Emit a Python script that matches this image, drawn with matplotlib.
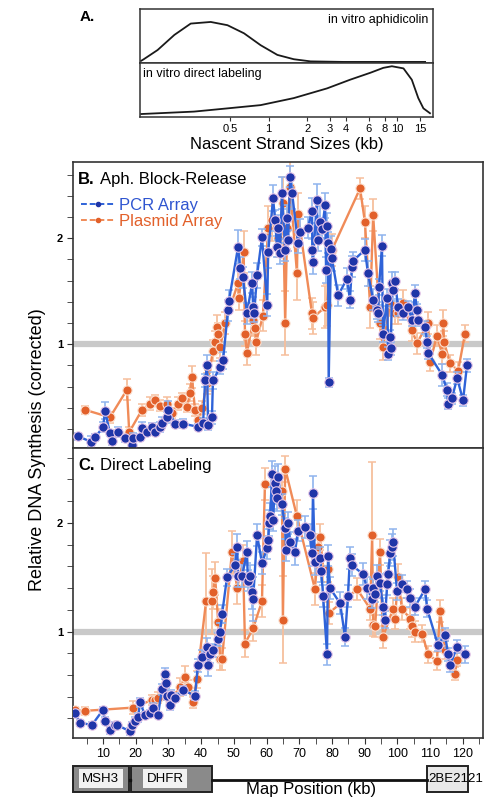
import matplotlib
matplotlib.use("Agg")
import matplotlib.pyplot as plt
from matplotlib.lines import Line2D
from matplotlib.patches import Rectangle
from matplotlib.ticker import MultipleLocator, FixedLocator, NullLocator

plt.rcParams['font.family'] = ['Liberation Sans', 'DejaVu Sans']

# ---- panel A: nascent strand size profiles ----
aph_kb = [0.102, 0.107, 0.137, 0.185, 0.248, 0.355, 0.479, 0.644, 0.867, 1.17, 1.57, 2.12, 3.8, 16.5]
aph_val = [0.04, 0.07, 0.24, 0.52, 0.73, 0.76, 0.70, 0.55, 0.33, 0.15, 0.07, 0.03, 0.02, 0.02]
dir_kb = [0.102, 0.263, 0.48, 0.867, 1.57, 2.85, 4.3, 6.2, 7.8, 9.1, 11.2, 13.0, 14.6, 16.0, 18.0]
dir_val = [0.055, 0.10, 0.16, 0.22, 0.35, 0.53, 0.69, 0.82, 0.91, 0.94, 0.90, 0.69, 0.35, 0.16, 0.07]
a_ticks = [0.5, 1, 2, 3, 4, 6, 8, 10, 15]

# ---- panel B: aphidicolin block-release ----
b_pcr_x = [2.4, 6.2, 7.6, 10.0, 10.6, 12.1, 12.7, 14.6, 16.7, 18.9, 19.2, 21.3, 21.9, 23.4, 25.0, 25.9,
           27.4, 28.0, 29.6, 29.9, 32.0, 34.5, 39.0, 40.6, 41.2, 41.8, 42.1, 43.3, 43.6, 45.8, 46.7,
           48.2, 48.5, 51.3, 51.9, 52.8, 54.0, 55.6, 55.9, 56.2, 57.1, 58.6, 60.2, 60.5, 62.0, 62.6,
           63.2, 63.5, 64.1, 64.7, 65.7, 66.3, 66.6, 67.2, 67.8, 69.6, 70.2, 72.7, 73.9, 74.0, 74.2,
           75.4, 75.6, 76.4, 77.0, 77.9, 78.2, 78.5, 78.8, 79.0, 79.7, 80.0, 81.9, 84.6, 85.5, 86.1,
           86.5, 90.1, 91.0, 92.6, 93.8, 94.1, 94.4, 95.3, 95.6, 96.9, 97.2, 97.8, 98.0, 98.4, 98.7,
           99.3, 100.2, 101.7, 103.3, 104.5, 105.4, 106.0, 106.3, 108.5, 109.1, 109.4, 113.7, 115.2,
           115.5, 116.7, 118.3, 120.1, 121.3]
b_pcr_y = [0.13, 0.08, 0.12, 0.22, 0.37, 0.16, 0.09, 0.17, 0.11, 0.05, 0.11, 0.12, 0.21, 0.17, 0.22, 0.17,
           0.22, 0.26, 0.31, 0.38, 0.25, 0.25, 0.22, 0.26, 0.66, 0.80, 0.24, 0.31, 0.66, 0.78, 0.85,
           1.32, 1.41, 1.92, 1.72, 1.63, 1.29, 1.58, 1.35, 1.29, 1.65, 2.01, 1.37, 1.87, 2.38, 2.17,
           1.92, 2.10, 1.86, 2.43, 1.89, 2.19, 1.98, 2.58, 2.43, 1.96, 2.06, 2.10, 2.26, 1.89, 1.78,
           2.36, 1.98, 2.15, 2.09, 2.31, 1.70, 2.12, 1.96, 0.64, 1.90, 1.81, 1.46, 1.62, 1.42, 1.73,
           1.79, 1.89, 1.67, 1.42, 1.32, 1.29, 1.54, 1.93, 1.10, 1.44, 0.91, 1.07, 0.96, 1.58, 1.51,
           1.60, 1.35, 1.29, 1.35, 1.23, 1.48, 1.32, 1.23, 1.16, 1.02, 0.92, 0.71, 0.57,
           0.44, 0.49, 0.68, 0.47, 0.80]
b_pcr_err = [0.03, 0.05, 0.03, 0.05, 0.08, 0.03, 0.04, 0.05, 0.03, 0.03, 0.05, 0.03, 0.06, 0.04, 0.04, 0.03,
             0.05, 0.05, 0.05, 0.08, 0.03, 0.04, 0.03, 0.04, 0.06, 0.10, 0.05, 0.06, 0.08, 0.06, 0.08,
             0.10, 0.10, 0.16, 0.10, 0.10, 0.10, 0.10, 0.10, 0.08, 0.12, 0.08, 0.10, 0.15, 0.12, 0.10,
             0.10, 0.12, 0.10, 0.15, 0.10, 0.12, 0.10, 0.10, 0.15, 0.10, 0.12, 0.10, 0.12, 0.10, 0.12,
             0.15, 0.10, 0.15, 0.10, 0.12, 0.12, 0.12, 0.10, 0.04, 0.12, 0.12, 0.10, 0.10, 0.08, 0.10,
             0.08, 0.10, 0.12, 0.10, 0.08, 0.08, 0.08, 0.10, 0.08, 0.08, 0.06, 0.06, 0.06, 0.10, 0.10,
             0.08, 0.08, 0.06, 0.06, 0.06, 0.08, 0.06, 0.06, 0.06, 0.06, 0.06, 0.10, 0.06,
             0.05, 0.05, 0.06, 0.05, 0.06]

b_pla_x = [4.5, 12.1, 17.3, 18.0, 21.9, 24.4, 25.9, 27.4, 29.6, 31.1, 32.9, 34.2, 35.7, 36.6, 37.2, 38.1,
           39.0, 40.3, 41.8, 42.1, 43.6, 44.3, 44.9, 45.2, 45.8, 47.3, 51.3, 51.6, 53.0, 53.4, 54.0,
           55.9, 56.5, 56.8, 58.9, 60.5, 61.7, 63.5, 65.0, 65.7, 66.3, 67.2, 69.3, 69.6, 73.9, 74.2,
           77.9, 78.5, 80.0, 88.6, 90.1, 91.7, 92.6, 94.7, 95.6, 97.8, 99.3, 100.2, 101.7, 104.5, 106.0,
           109.4, 110.0, 112.1, 113.7, 114.0, 114.3, 116.1, 118.6, 120.7]
b_pla_y = [0.38, 0.31, 0.57, 0.17, 0.38, 0.44, 0.47, 0.42, 0.44, 0.35, 0.44, 0.49, 0.41, 0.54, 0.69, 0.38,
           0.28, 0.40, 0.63, 0.66, 0.94, 1.02, 1.16, 1.10, 0.97, 1.20, 1.58, 1.44, 1.87, 1.10, 0.92,
           1.23, 1.15, 1.02, 1.27, 2.10, 2.17, 2.00, 2.33, 1.20, 2.10, 2.48, 1.67, 2.23, 1.29, 1.25,
           1.35, 1.37, 1.89, 2.47, 2.15, 1.35, 2.22, 1.20, 0.97, 1.39, 1.29, 1.29, 1.39, 1.13, 1.01,
           1.20, 0.83, 1.08, 0.91, 1.20, 1.02, 0.82, 0.75, 1.10]
b_pla_err = [0.04, 0.05, 0.10, 0.05, 0.06, 0.06, 0.05, 0.05, 0.06, 0.05, 0.06, 0.05, 0.05, 0.08, 0.10, 0.06,
             0.05, 0.06, 0.10, 0.10, 0.10, 0.10, 0.12, 0.10, 0.10, 0.10, 0.15, 0.12, 0.20, 0.12, 0.12,
             0.15, 0.12, 0.12, 0.15, 0.20, 0.20, 0.18, 0.25, 0.30, 0.20, 0.25, 0.25, 0.20, 0.15, 0.15,
             0.20, 0.20, 0.15, 0.10, 0.15, 0.20, 0.15, 0.15, 0.12, 0.12, 0.10, 0.10, 0.12, 0.10, 0.10,
             0.10, 0.08, 0.10, 0.10, 0.12, 0.10, 0.08, 0.08, 0.08]

# ---- panel C: direct labeling ----
c_pcr_x = [1.4, 3.0, 6.6, 10.0, 10.6, 12.1, 13.7, 14.3, 18.3, 18.9, 19.8, 20.7, 21.3, 22.8, 24.4, 25.3,
           26.8, 28.0, 28.9, 29.2, 29.6, 30.5, 30.8, 32.0, 34.5, 38.1, 39.0, 40.3, 41.8, 42.1, 42.7,
           43.6, 45.2, 45.8, 46.4, 47.9, 50.4, 51.0, 51.3, 52.5, 54.0, 54.3, 54.9, 55.6, 55.9, 57.1,
           58.6, 60.2, 60.5, 60.8, 61.1, 61.7, 62.0, 62.6, 62.9, 63.2, 63.5, 64.7, 65.7, 66.0, 66.6,
           67.2, 68.7, 69.6, 71.8, 73.3, 73.9, 74.2, 74.8, 76.4, 76.7, 77.3, 78.5, 78.8, 79.4, 82.5,
           84.0, 84.9, 85.5, 86.1, 89.5, 90.7, 92.3, 92.6, 93.2, 93.8, 94.7, 95.6, 96.2, 96.9, 97.2,
           97.8, 98.4, 98.7, 99.9, 101.4, 103.0, 103.9, 105.4, 108.5, 109.1, 112.4, 114.6, 115.5,
           116.1, 118.3, 120.7]
c_pcr_y = [0.25, 0.16, 0.14, 0.28, 0.18, 0.09, 0.14, 0.14, 0.08, 0.14, 0.18, 0.21, 0.35, 0.23, 0.25, 0.30,
           0.23, 0.47, 0.61, 0.53, 0.41, 0.32, 0.42, 0.39, 0.46, 0.41, 0.69, 0.77, 0.86, 0.69, 0.79,
           0.83, 0.93, 1.00, 1.16, 1.50, 1.61, 1.78, 1.51, 1.51, 1.73, 1.47, 1.51, 1.36, 1.30, 1.89,
           1.63, 1.77, 1.84, 2.00, 2.06, 2.45, 2.03, 2.37, 2.29, 2.23, 2.42, 2.17, 1.95, 1.75, 2.00,
           1.82, 1.73, 1.93, 1.96, 1.89, 1.72, 2.28, 1.64, 1.68, 1.56, 1.33, 0.79, 1.70, 1.40, 1.26,
           0.95, 1.33, 1.68, 1.61, 1.53, 1.40, 1.30, 1.40, 1.35, 1.51, 1.45, 1.23, 1.11, 1.44, 1.53,
           1.72, 1.78, 1.82, 1.37, 1.44, 1.39, 1.31, 1.23, 1.39, 1.21, 0.88, 0.97, 0.79,
           0.69, 0.86, 0.79]
c_pcr_err = [0.03, 0.03, 0.03, 0.03, 0.03, 0.03, 0.03, 0.03, 0.03, 0.03, 0.03, 0.04, 0.04, 0.03, 0.03, 0.04,
             0.03, 0.05, 0.05, 0.05, 0.04, 0.04, 0.04, 0.04, 0.04, 0.04, 0.06, 0.06, 0.08, 0.10, 0.08,
             0.06, 0.06, 0.08, 0.08, 0.08, 0.10, 0.12, 0.10, 0.10, 0.10, 0.10, 0.10, 0.15, 0.20, 0.10,
             0.10, 0.10, 0.10, 0.12, 0.12, 0.12, 0.10, 0.15, 0.12, 0.12, 0.12, 0.10, 0.10, 0.10, 0.10,
             0.10, 0.12, 0.10, 0.10, 0.10, 0.12, 0.15, 0.12, 0.10, 0.10, 0.10, 0.10, 0.10, 0.10, 0.10,
             0.08, 0.10, 0.10, 0.10, 0.10, 0.10, 0.08, 0.08, 0.08, 0.10, 0.08, 0.08, 0.08, 0.10, 0.10,
             0.12, 0.12, 0.12, 0.08, 0.08, 0.08, 0.08, 0.08, 0.08, 0.08, 0.06, 0.06, 0.06,
             0.06, 0.06, 0.08]

c_pla_x = [1.4, 4.5, 19.2, 25.0, 25.9, 26.8, 30.5, 33.5, 35.1, 36.0, 37.5, 38.7, 41.5, 43.3, 43.6, 44.3,
           45.2, 45.8, 46.4, 49.4, 51.0, 52.8, 53.4, 55.9, 58.6, 59.5, 64.7, 65.0, 65.7, 69.3, 74.8,
           75.8, 76.4, 77.3, 78.8, 79.1, 87.7, 91.7, 92.3, 92.6, 93.2, 94.7, 95.6, 98.7, 99.3, 100.2,
           101.4, 103.9, 104.5, 105.4, 107.6, 109.4, 112.1, 113.1, 114.6, 117.6, 118.3]
c_pla_y = [0.28, 0.27, 0.30, 0.37, 0.37, 0.39, 0.36, 0.49, 0.58, 0.49, 0.35, 0.56, 1.28, 1.28, 1.36, 1.49,
           1.09, 0.75, 0.75, 1.73, 1.40, 1.65, 0.89, 1.03, 1.28, 2.36, 2.29, 1.11, 2.50, 2.06, 1.39,
           1.78, 1.87, 1.58, 1.58, 1.17, 1.39, 1.21, 1.89, 1.06, 1.05, 1.73, 0.95, 1.21, 1.12, 1.50,
           1.21, 1.12, 1.05, 1.00, 0.98, 0.79, 0.73, 1.19, 0.83, 0.61, 0.74]
c_pla_err = [0.03, 0.04, 0.06, 0.05, 0.05, 0.05, 0.05, 0.08, 0.10, 0.06, 0.05, 0.08, 0.44, 0.30, 0.15, 0.15,
             0.12, 0.10, 0.10, 0.20, 0.15, 0.15, 0.12, 0.12, 0.15, 0.15, 0.15, 0.40, 0.12, 0.15, 0.15,
             0.12, 0.12, 0.12, 0.12, 0.10, 0.10, 0.10, 0.67, 0.10, 0.10, 0.12, 0.10, 0.10, 0.10, 0.12,
             0.10, 0.10, 0.10, 0.10, 0.08, 0.08, 0.08, 0.10, 0.08, 0.06, 0.06]

# ---- gene map ----
gene_names = ['MSH3', 'DHFR', '2BE2121']
gene_start = [0.7, 18.6, 109.1]
gene_end = [17.9, 43.3, 121.6]
gene_fill = ['#8a8a8a', '#8a8a8a', '#e8e8e8']

x_ticks = list(range(10, 130, 10))

BLUE_DOT = '#1f35a8'
BLUE_LINE = '#2f63d8'
BLUE_ERR = '#8fb4ee'
ORANGE_DOT = '#e2602a'
ORANGE_LINE = '#f08b58'
ORANGE_ERR = '#f6bf9c'
FRAME = '#333333'

fig = plt.figure(figsize=(4.92, 7.97), dpi=100)

# panel A
W, H = 492.0, 797.0
axA1 = fig.add_axes([140 / W, 1 - 63 / H, 293 / W, 54 / H])
axA2 = fig.add_axes([140 / W, 1 - 117 / H, 293 / W, 54 / H], sharex=axA1)
axA1.plot(aph_kb, aph_val, color='#1a1a1a', lw=1.3)
axA2.plot(dir_kb, dir_val, color='#1a1a1a', lw=1.3)
for ax in (axA1, axA2):
    ax.set_xscale('log')
    ax.set_xlim(0.1, 19)
    ax.set_ylim(0, 1)
    ax.yaxis.set_major_locator(NullLocator())
    for s in ax.spines.values():
        s.set_color(FRAME)
        s.set_linewidth(1.1)
axA1.tick_params(axis='x', which='both', bottom=False, labelbottom=False)
axA2.xaxis.set_major_locator(FixedLocator(a_ticks))
axA2.xaxis.set_minor_locator(NullLocator())
axA2.set_xticklabels([str(t) for t in a_ticks])
axA2.tick_params(axis='x', direction='out', length=3, labelsize=8, pad=2, color=FRAME)
axA2.set_xlabel('Nascent Strand Sizes (kb)', fontsize=12, labelpad=2)
axA1.text(0.985, 0.8, 'in vitro aphidicolin', transform=axA1.transAxes, ha='right', va='center', fontsize=9)
axA2.text(0.01, 0.8, 'in vitro direct labeling', transform=axA2.transAxes, ha='left', va='center', fontsize=9)
fig.text(80 / W, 1 - 17 / H, 'A.', fontsize=11, fontweight='bold', ha='left', va='center')

# panels B and C
axB = fig.add_axes([73 / W, 1 - 448 / H, 410 / W, 286 / H])
axC = fig.add_axes([73 / W, 1 - 738 / H, 410 / W, 290 / H], sharex=axB)


def draw_panel(ax, px, py, pe, ox, oy, oe):
    ax.axhline(1.0, color='#c9c9c9', lw=4.5, zorder=0)
    ax.errorbar(ox, oy, yerr=oe, fmt='none', ecolor=ORANGE_ERR, elinewidth=1.3, capsize=3, capthick=1.1, zorder=1)
    ax.plot(ox, oy, color=ORANGE_LINE, lw=1.7, zorder=2)
    ax.plot(ox, oy, 'o', ms=6.6, color=ORANGE_DOT, mec='#fbe0d0', mew=0.8, zorder=3)
    ax.errorbar(px, py, yerr=pe, fmt='none', ecolor=BLUE_ERR, elinewidth=1.2, capsize=3, capthick=1.1, zorder=4)
    ax.plot(px, py, color=BLUE_LINE, lw=1.7, zorder=5)
    ax.plot(px, py, 'o', ms=6.8, color=BLUE_DOT, mec='#e8c8e8', mew=0.8, zorder=6)
    ax.set_xlim(0.8, 126.2)
    ax.yaxis.set_major_locator(MultipleLocator(1))
    ax.yaxis.set_minor_locator(MultipleLocator(0.2))
    ax.tick_params(axis='y', which='both', direction='out', length=4, color=FRAME, labelsize=8, pad=3)
    for s in ax.spines.values():
        s.set_color(FRAME)
        s.set_linewidth(1.2)


draw_panel(axB, b_pcr_x, b_pcr_y, b_pcr_err, b_pla_x, b_pla_y, b_pla_err)
draw_panel(axC, c_pcr_x, c_pcr_y, c_pcr_err, c_pla_x, c_pla_y, c_pla_err)
axB.set_ylim(0.02, 2.72)
axC.set_ylim(0.02, 2.69)
for ax in (axB, axC):
    for lab in ax.get_yticklabels():
        lab.set_fontweight('bold')

axB.tick_params(axis='x', which='both', bottom=False, labelbottom=False)
axC.xaxis.set_major_locator(FixedLocator(x_ticks))
axC.xaxis.set_minor_locator(MultipleLocator(5))
axC.tick_params(axis='x', which='both', direction='out', length=4, color=FRAME, labelsize=9, pad=3)

axB.text(0.012, 0.965, 'B.', transform=axB.transAxes, fontsize=12, fontweight='bold', va='top', ha='left')
axB.text(0.065, 0.965, 'Aph. Block-Release', transform=axB.transAxes, fontsize=12, va='top', ha='left')
axC.text(0.012, 0.965, 'C.', transform=axC.transAxes, fontsize=12, fontweight='bold', va='top', ha='left')
axC.text(0.065, 0.965, 'Direct Labeling', transform=axC.transAxes, fontsize=12, va='top', ha='left')

handles = [Line2D([], [], color=BLUE_LINE, lw=1.4, ls=(0, (3, 1.5)), marker='o', ms=3, mfc=BLUE_DOT, mec=BLUE_DOT),
           Line2D([], [], color=ORANGE_LINE, lw=1.4, ls=(0, (3, 1.5)), marker='o', ms=3, mfc=ORANGE_DOT, mec=ORANGE_DOT)]
leg = axB.legend(handles, ['PCR Array', 'Plasmid Array'], loc='upper left', bbox_to_anchor=(-0.005, 0.91),
                 frameon=False, fontsize=12, handlelength=2.0, handletextpad=0.3, labelspacing=0.05,
                 borderaxespad=0.2)
for txt, col in zip(leg.get_texts(), ['#2f55d0', ORANGE_DOT]):
    txt.set_color(col)

fig.text(38 / W, 1 - 450 / H, 'Relative DNA Synthesis (corrected)', rotation=90, fontsize=13,
         ha='center', va='center')

# gene map
axG = fig.add_axes([73 / W, 0, 410 / W, 37 / H], sharex=axC)
axG.set_ylim(0, 1)
axG.axis('off')
axG.plot([gene_end[1], gene_start[2]], [0.46, 0.46], color='#111111', lw=2, clip_on=False)
axG.plot([gene_end[0] + 0.35], [0.46], 's', ms=1.5, color='#111111')
for name, s, e, fc in zip(gene_names, gene_start, gene_end, gene_fill):
    axG.add_patch(Rectangle((s, 0.135), e - s, 0.705, facecolor=fc, edgecolor='#222222', lw=1.4, clip_on=False))
axG.text((gene_start[0] + gene_end[0]) / 2, 0.5, gene_names[0], ha='center', va='center', fontsize=9.5,
         bbox=dict(boxstyle='square,pad=0.25', fc='#f2f2f2', ec='none'))
axG.text((gene_start[1] + gene_end[1]) / 2 - 2, 0.5, gene_names[1], ha='center', va='center', fontsize=9.5,
         bbox=dict(boxstyle='square,pad=0.25', fc='#f2f2f2', ec='none'))
axG.text(gene_start[2] + 0.5, 0.5, gene_names[2], ha='left', va='center', fontsize=9.5, clip_on=False)
fig.text(311 / W, 1 - 782 / H, 'Map Position (kb)', ha='center', va='top', fontsize=12)

fig.savefig('out.png', dpi=100)
